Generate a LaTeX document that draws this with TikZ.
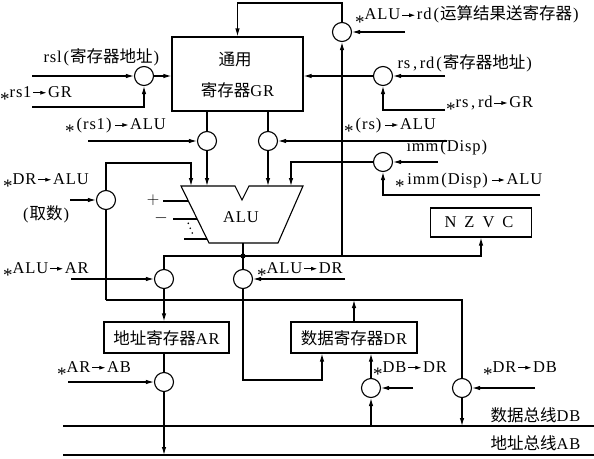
\documentclass[tikz,border=0pt]{standalone}
\usepackage{fontspec}
\setmainfont[LetterSpace=5]{Liberation Serif}
\newfontfamily\cjk{Noto Sans CJK SC}
\usetikzlibrary{arrows.meta}
\newcommand\zh[1]{{\cjk #1}}
\newcommand\lst{\raisebox{-0.5em}{\fontsize{19}{19}\selectfont *}}
\newcommand\ar{\hspace{1.5pt}\tikz[baseline=0pt,x=1pt,y=1pt]\draw[line width=0.7pt,-{Latex[length=6pt,width=4pt]}] (0,4.6) -- (13,4.6);\hspace{1.5pt}}
\newcommand\lp{\hspace{2pt}(\hspace{1pt}}
\newcommand\rp{\hspace{1pt})\hspace{2pt}}
\begin{document}
\begin{tikzpicture}[x=1pt,y=-1pt, line width=1.1pt,
  >={Latex[length=8pt,width=4.5pt]},
  gate/.style={circle,draw,minimum size=19pt,inner sep=0pt},
  reg/.style={draw,rectangle,inner sep=0pt},
  lbl/.style={inner sep=0pt, font=\fontsize{16.5}{19}\selectfont}]
\useasboundingbox (0,0) rectangle (594,458);

% registers
\node[reg, minimum width=131pt, minimum height=74pt] (gr) at (237.5,74) {};
\node[reg, minimum width=125pt, minimum height=31pt] (ar) at (166.5,337.5) {};
\node[reg, minimum width=126pt, minimum height=31pt] (dr) at (354,337.5) {};
\node[reg, minimum width=101pt, minimum height=29pt] (nzvc) at (481,222.5) {};

% gates
\node[gate] (g1) at (144,76) {};
\node[gate] (g2) at (342,32) {};
\node[gate] (g3) at (383,76) {};
\node[gate] (g4) at (207,141) {};
\node[gate] (g5) at (268,141) {};
\node[gate] (g6) at (383,162) {};
\node[gate] (g7) at (106,200) {};
\node[gate] (g8) at (164,279) {};
\node[gate] (g9) at (243,279) {};
\node[gate] (g10) at (164,382) {};
\node[gate] (g11) at (371,388) {};
\node[gate] (g12) at (462,388) {};

% ALU
\draw (181,186) -- (235,186) -- (242,200) -- (249,186) -- (303,186) -- (278,243) -- (209,243) -- cycle;
\node[lbl] (alu) at (241,217) {ALU};
\coordinate (alubot) at (243,243);
\coordinate (in1) at (191,186);
\coordinate (in2) at (207,186);
\coordinate (in3) at (268,186);
\coordinate (in4) at (291,186);
\draw (163,201) -- (188.4,201);
\draw (173,219) -- (197.2,219);
\draw (184,239) -- (207,239);
\node[lbl] (plus) at (153,200.5) {$+$};
\node[lbl] (minus) at (161,218.5) {$-$};
\fill (188.3,223.3) circle (0.9pt) (190.2,228.2) circle (0.9pt) (192.2,233) circle (0.9pt);

% ALU output bus
\coordinate (dot) at (243,256);
\coordinate (busR) at (342,256);
\fill (dot) circle (2.6pt);
\draw (alubot) -- (g9.north);
\draw (g8.north) |- (dot) -- (busR);
\draw[->] (busR) -| (nzvc.south);
\draw[->] (busR) -- (g2.south);

% feedback to GR
\coordinate (top) at (237.5,3);
\draw[->] (g2.north) |- (top) -- (gr.north);
\coordinate (i2) at (405,32);
\draw[->] (i2) -- (g2.east);

% rsl gate
\coordinate (i1a) at (32,76);
\coordinate (i1b) at (32,107);
\draw[->] (i1a) -- (g1.west);
\draw[->] (i1b) -| (g1.south);
\draw[->] (g1.east) -- (gr.west |- g1);

% rs,rd gate
\coordinate (i3a) at (445,76);
\coordinate (i3b) at (445,110);
\draw[->] (i3a) -- (g3.east);
\draw[->] (i3b) -| (g3.south);
\draw[->] (g3.west) -- (gr.east |- g3);

% (rs1) gate
\coordinate (i4) at (88,141);
\draw (gr.south -| g4) -- (g4.north);
\draw[->] (g4.south) -- (in2);
\draw[->] (i4) -- (g4.west);

% (rs) gate
\coordinate (i5) at (447,141);
\draw (gr.south -| g5) -- (g5.north);
\draw[->] (g5.south) -- (in3);
\draw[->] (i5) -- (g5.east);

% imm gate
\coordinate (i6a) at (438,162);
\coordinate (i6b) at (540,195);
\draw[->] (i6a) -- (g6.east);
\draw[->] (i6b) -| (g6.south);
\draw[->] (g6.west) -| (in4);

% DR -> ALU loop
\coordinate (loopL) at (106,300);
\coordinate (loopR) at (462,300);
\coordinate (i7) at (70,200);
\draw (loopL) -- (g7.south);
\draw[->] (g7.north) |- (191,163) -- (in1);
\draw[->] (i7) -- (g7.west);
\draw (loopL) -- (loopR) -- (g12.north);
\draw[->] (dr.north) -- (dr.north |- loopL);

% ALU -> AR
\coordinate (i8) at (71,279);
\draw[->] (i8) -- (g8.west);
\draw[->] (g8.south) -- (g8.south |- ar.north);
\draw (ar.south -| g10) -- (g10.north);
\coordinate (i10) at (68,382);
\draw[->] (i10) -- (g10.west);

% ALU -> DR
\coordinate (i9) at (345,279);
\draw[->] (i9) -- (g9.east);
\coordinate (c9) at (322,380);
\draw[->] (g9.south) |- (c9) -- (c9 |- dr.south);

% buses
\coordinate (dbL) at (63,426);
\coordinate (dbR) at (594,426);
\coordinate (abL) at (63,455);
\coordinate (abR) at (594,455);
\draw (dbL) -- (dbR);
\draw (abL) -- (abR);
\draw[->] (g10.south) -- (g10.south |- abL);

% DB -> DR
\coordinate (i11) at (413,388);
\draw[->] (g11 |- dbL) -- (g11.south);
\draw[->] (g11.north) -- (g11.north |- dr.south);
\draw[->] (i11) -- (g11.east);

% DR -> DB
\coordinate (i12) at (535,388);
\draw[->] (g12.south) -- (g12.south |- dbL);
\draw[->] (i12) -- (g12.east);

% labels
\node[lbl] (tgr1) at (235,60) {\zh{通用}};
\node[lbl] (tgr2) at (237.5,90) {\zh{寄存器}GR};
\node[lbl] (tar) at (166.5,338) {\zh{地址寄存器}AR};
\node[lbl] (tdr) at (354,338) {\zh{数据寄存器}DR};
\node[lbl] (tnzvc) at (479,222.5) {N\hspace{8pt}Z\hspace{8pt}V\hspace{8pt}C};

\node[lbl, anchor=west] (l1) at (43,57) {rsl\lp\zh{寄存器地址}\rp};
\node[lbl, anchor=west] (l2) at (0,96) {\lst rs1\ar GR};
\node[lbl, anchor=west] (l3) at (65,128) {\lst\lp rs1\rp\ar ALU};
\node[lbl, anchor=west] (l4) at (355,17) {\lst ALU\ar rd\lp\zh{运算结果送寄存器}\rp};
\node[lbl, anchor=west] (l5) at (397,63) {rs\,,\,rd\lp\zh{寄存器地址}\rp};
\node[lbl, anchor=west] (l6) at (446,106) {\lst rs\,,\,rd\ar GR};
\node[lbl, anchor=west] (l7) at (344,128) {\lst\lp rs\rp\ar ALU};
\node[lbl, anchor=west] (l8) at (406,148) {imm\lp Disp\rp};
\node[lbl, anchor=west] (l9) at (395,183) {\lst\,imm\lp Disp\rp\ar ALU};
\node[lbl, anchor=west] (l10) at (3,183) {\lst DR\ar ALU};
\node[lbl] (l11) at (45,214) {\lp\zh{取数}\rp};
\node[lbl, anchor=west] (l12) at (3,272) {\lst ALU\ar AR};
\node[lbl, anchor=west] (l13) at (257,272) {\lst ALU\ar DR};
\node[lbl, anchor=west] (l14) at (57,371) {\lst AR\ar AB};
\node[lbl, anchor=west] (l15) at (373,371) {\lst DB\ar DR};
\node[lbl, anchor=west] (l16) at (483,371) {\lst DR\ar DB};
\node[lbl, anchor=east] (l17) at (581,415) {\zh{数据总线}DB};
\node[lbl, anchor=east] (l18) at (581,443) {\zh{地址总线}AB};
\end{tikzpicture}
\end{document}
